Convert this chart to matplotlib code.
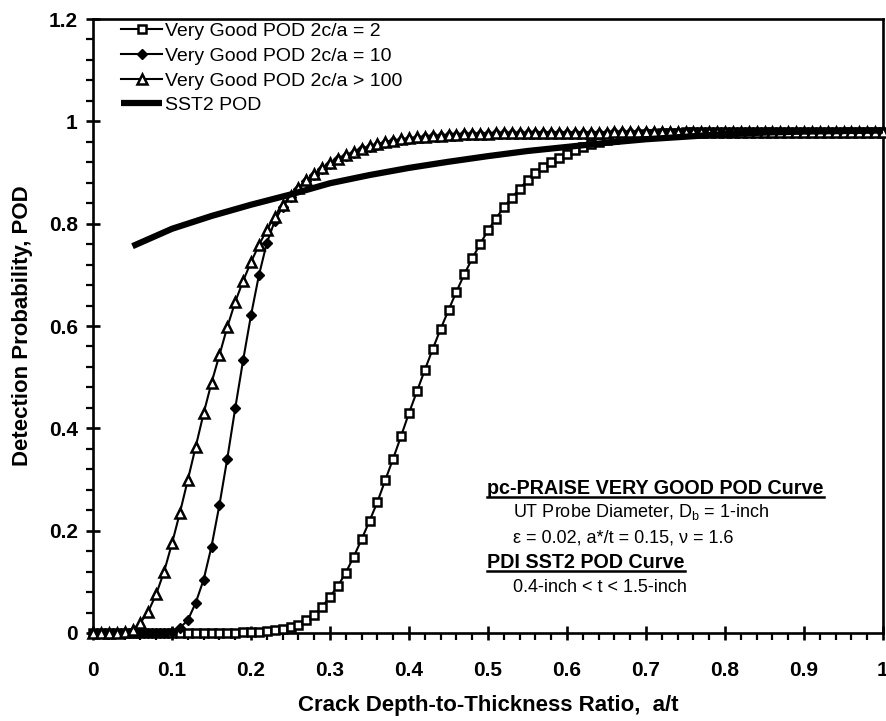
import numpy as np
import matplotlib
matplotlib.use("Agg")
import matplotlib.pyplot as plt
from matplotlib.ticker import MultipleLocator
from matplotlib.lines import Line2D

plt.rcParams['font.family'] = ['Liberation Sans', 'DejaVu Sans']
plt.rcParams['mathtext.fontset'] = 'custom'
plt.rcParams['mathtext.rm'] = 'Liberation Sans'

# ---------------- data ----------------
a_t = np.round(np.arange(101) * 0.01, 2)

pod_2ca_2 = [0.0, 0.0, 0.0, 0.0, 0.0, 0.0, 0.0, 0.0, 0.0, 0.0,
             0.0, 0.0, 0.0, 0.0, 0.0, 0.0, 0.0, 0.0, 0.0005, 0.001,
             0.001, 0.002, 0.003, 0.005, 0.007, 0.011, 0.016, 0.025, 0.035, 0.051,
             0.071, 0.092, 0.118, 0.149, 0.183, 0.219, 0.256, 0.299, 0.341, 0.385,
             0.430, 0.472, 0.514, 0.555, 0.594, 0.631, 0.667, 0.701, 0.732, 0.760,
             0.787, 0.810, 0.832, 0.851, 0.868, 0.885, 0.899, 0.910, 0.920, 0.928,
             0.937, 0.944, 0.950, 0.955, 0.959, 0.963, 0.966, 0.969, 0.971, 0.973,
             0.975, 0.976, 0.977, 0.978, 0.978, 0.979, 0.979, 0.979, 0.980, 0.980,
             0.980, 0.980, 0.980, 0.980, 0.980, 0.980, 0.980, 0.980, 0.980, 0.980,
             0.980, 0.980, 0.980, 0.980, 0.980, 0.980, 0.980, 0.980, 0.980, 0.980,
             0.980]

pod_2ca_10 = [0.0, 0.0, 0.0, 0.0, 0.0, 0.0, 0.0, 0.0, 0.0, 0.0,
              0.002, 0.010, 0.025, 0.059, 0.104, 0.169, 0.250, 0.341, 0.439, 0.533,
              0.621, 0.699, 0.762, 0.805, 0.833, 0.853, 0.868, 0.883, 0.896, 0.907,
              0.917, 0.926, 0.933, 0.939, 0.945, 0.950, 0.954, 0.958, 0.961, 0.964,
              0.966, 0.968, 0.970, 0.971, 0.972, 0.973, 0.974, 0.975, 0.975, 0.976,
              0.976, 0.977, 0.977, 0.977, 0.977, 0.977, 0.978, 0.978, 0.978, 0.978,
              0.978, 0.978, 0.978, 0.978, 0.978, 0.978, 0.979, 0.979, 0.979, 0.979,
              0.979, 0.979, 0.979, 0.979, 0.979, 0.979, 0.980, 0.980, 0.980, 0.980,
              0.980, 0.980, 0.980, 0.980, 0.980, 0.980, 0.980, 0.980, 0.980, 0.980,
              0.980, 0.980, 0.980, 0.980, 0.980, 0.980, 0.980, 0.980, 0.980, 0.980,
              0.980]

pod_2ca_100 = [0.0, 0.0, 0.0, 0.0, 0.001, 0.006, 0.020, 0.042, 0.076, 0.120,
               0.175, 0.235, 0.299, 0.364, 0.429, 0.489, 0.543, 0.598, 0.647, 0.688,
               0.725, 0.758, 0.788, 0.814, 0.836, 0.855, 0.870, 0.885, 0.898, 0.908,
               0.918, 0.927, 0.934, 0.940, 0.946, 0.951, 0.955, 0.959, 0.962, 0.965,
               0.967, 0.969, 0.970, 0.971, 0.972, 0.973, 0.974, 0.975, 0.975, 0.976,
               0.976, 0.977, 0.977, 0.977, 0.977, 0.977, 0.978, 0.978, 0.978, 0.978,
               0.978, 0.978, 0.978, 0.978, 0.978, 0.978, 0.979, 0.979, 0.979, 0.979,
               0.979, 0.979, 0.979, 0.979, 0.979, 0.979, 0.980, 0.980, 0.980, 0.980,
               0.980, 0.980, 0.980, 0.980, 0.980, 0.980, 0.980, 0.980, 0.980, 0.980,
               0.980, 0.980, 0.980, 0.980, 0.980, 0.980, 0.980, 0.980, 0.980, 0.980,
               0.980]

sst2_a_t = [0.05, 0.10, 0.15, 0.20, 0.25, 0.30, 0.35, 0.40, 0.45, 0.50,
            0.55, 0.60, 0.65, 0.70, 0.75, 0.80, 0.85, 0.90, 0.95, 1.00]
sst2_pod = [0.756, 0.790, 0.815, 0.837, 0.857, 0.879, 0.895, 0.909, 0.921, 0.932,
            0.942, 0.950, 0.958, 0.965, 0.970, 0.975, 0.978, 0.980, 0.981, 0.982]

labels = ['Very Good POD 2c/a = 2', 'Very Good POD 2c/a = 10',
          'Very Good POD 2c/a > 100', 'SST2 POD']

# ---------------- figure ----------------
fig = plt.figure(figsize=(8.86, 7.21), dpi=100)
ax = fig.add_axes([93/886, 1-633/721, 790/886, 614/721])

ax.plot(a_t, pod_2ca_2, color='black', lw=1.5, marker='s', ms=5.5,
        mfc='white', mec='black', mew=1.8, label=labels[0], clip_on=False, zorder=3)
ax.plot(a_t, pod_2ca_10, color='black', lw=1.5, marker='D', ms=5.5,
        mfc='black', mec='black', mew=1.0, label=labels[1], clip_on=False, zorder=3)
ax.plot(a_t, pod_2ca_100, color='black', lw=1.5, marker='^', ms=6.5,
        mfc='white', mec='black', mew=1.8, label=labels[2], clip_on=False, zorder=3)
ax.plot(sst2_a_t, sst2_pod, color='black', lw=4.5, solid_capstyle='butt',
        label=labels[3], zorder=4)

ax.set_xlim(0, 1)
ax.set_ylim(0, 1.2)
ax.xaxis.set_minor_locator(MultipleLocator(0.02))
ax.yaxis.set_minor_locator(MultipleLocator(0.04))
ax.set_xticks(np.round(np.arange(0, 1.01, 0.1), 1))
ax.set_xticklabels(['0', '0.1', '0.2', '0.3', '0.4', '0.5', '0.6', '0.7', '0.8', '0.9', '1'])
ax.set_yticks(np.round(np.arange(0, 1.21, 0.2), 1))
ax.set_yticklabels(['0', '0.2', '0.4', '0.6', '0.8', '1', '1.2'])

for s in ax.spines.values():
    s.set_linewidth(1.9)
ax.tick_params(which='major', direction='inout', length=10, width=1.9,
               labelsize=15)
ax.tick_params(which='minor', direction='out', length=5, width=1.6)
ax.tick_params(axis='x', which='major', pad=15)
ax.tick_params(axis='y', which='major', pad=6)
for lab in ax.get_xticklabels() + ax.get_yticklabels():
    lab.set_fontweight('bold')

ax.set_xlabel('Crack Depth-to-Thickness Ratio,  a/t', fontsize=16,
              fontweight='bold', labelpad=11)
ax.set_ylabel('Detection Probability, POD', fontsize=16,
              fontweight='bold', labelpad=11)

leg = ax.legend(loc='upper left', bbox_to_anchor=(0.035, 0.994), frameon=False,
                fontsize=14, handlelength=2.15, handletextpad=0.12,
                labelspacing=0.36, borderaxespad=0, borderpad=0)

# annotation block
def yfrac(ypx):
    return (633 - ypx) / 614

hx, ix = 0.499, 0.532
t1 = ax.text(hx, yfrac(488), 'pc-PRAISE VERY GOOD POD Curve', transform=ax.transAxes,
             fontsize=14.2, fontweight='bold', va='center', ha='left')
ax.text(ix, yfrac(512), r'UT Probe Diameter, D$_{\mathrm{b}}$ = 1-inch', transform=ax.transAxes,
        fontsize=13, va='center', ha='left')
ax.text(ix, yfrac(538), 'ε = 0.02, a*/t = 0.15, ν = 1.6', transform=ax.transAxes,
        fontsize=13, va='center', ha='left')
t2 = ax.text(hx, yfrac(562), 'PDI SST2 POD Curve', transform=ax.transAxes,
             fontsize=14.2, fontweight='bold', va='center', ha='left')
ax.text(ix, yfrac(587), '0.4-inch < t < 1.5-inch', transform=ax.transAxes,
        fontsize=13, va='center', ha='left')

fig.canvas.draw()
r = fig.canvas.get_renderer()
inv = fig.transFigure.inverted()
for t in (t1, t2):
    bb = t.get_window_extent(renderer=r)
    (x0, y0) = inv.transform((bb.x0, bb.y0 + 1))
    (x1, _) = inv.transform((bb.x1, bb.y0 + 1))
    fig.add_artist(Line2D([x0, x1], [y0, y0], color='black', lw=1.8,
                          transform=fig.transFigure))

fig.savefig('out.png', dpi=100)
